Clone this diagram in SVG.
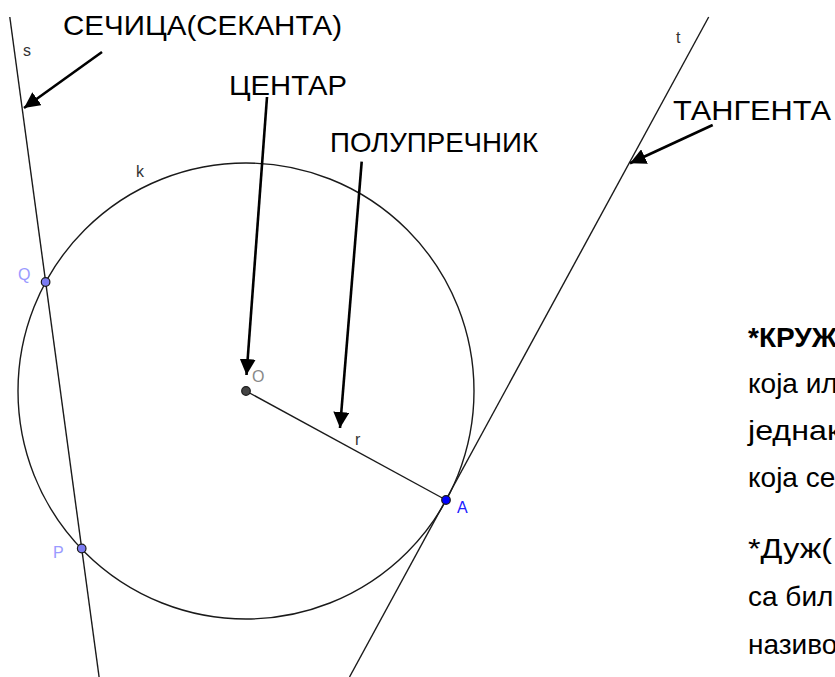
<svg xmlns="http://www.w3.org/2000/svg" width="835" height="677" viewBox="0 0 835 677">
<defs>
<style>
.geo{fill:none;stroke:#1a1a1a;stroke-width:1.4}
.lbl{font-family:"Liberation Sans",Arial,sans-serif;font-size:16px;fill:#333}
.big{font-family:"Comic Sans MS","Liberation Sans",sans-serif;font-size:28px;fill:#000}
.arr{fill:none;stroke:#000;stroke-width:2.6;marker-end:url(#ah)}
.pt{stroke:#1a1a1a;stroke-width:1.2}
</style>
<marker id="ah" markerUnits="userSpaceOnUse" markerWidth="18" markerHeight="16" refX="16" refY="8" orient="auto">
<path d="M0,0 L16,8 L0,16 z" fill="#000"/>
</marker>
</defs>
<rect width="835" height="677" fill="#fff"/>

<g id="circle-k">
<circle class="geo" cx="246" cy="391" r="228"/>
<text class="lbl" x="136" y="177">k</text>
</g>
<g id="line-s">
<line class="geo" x1="9.8" y1="17" x2="99.1" y2="677"/>
<text class="lbl" x="23" y="56">s</text>
</g>
<g id="line-t">
<line class="geo" x1="708.7" y1="17" x2="349.5" y2="677"/>
<text class="lbl" x="676" y="43">t</text>
</g>
<g id="segment-r">
<line class="geo" x1="246" y1="391" x2="446" y2="500"/>
<text class="lbl" x="355" y="445">r</text>
</g>
<g id="point-O">
<circle class="pt" cx="246" cy="391" r="4.3" fill="#444"/>
<text class="lbl" x="252" y="382" style="fill:#888">O</text>
</g>
<g id="point-A">
<circle class="pt" cx="446" cy="500" r="4.3" fill="#0000ff"/>
<text class="lbl" x="457" y="513" style="fill:#2020ff">A</text>
</g>
<g id="point-Q">
<circle class="pt" cx="45.6" cy="282" r="4.3" fill="#7b7bf2"/>
<text class="lbl" x="18" y="280" style="fill:#9a9aff">Q</text>
</g>
<g id="point-P">
<circle class="pt" cx="81.7" cy="548.5" r="4.3" fill="#7b7bf2"/>
<text class="lbl" x="53" y="558" style="fill:#9a9aff">P</text>
</g>

<g id="label-secant"><text class="big" x="63" y="35" textLength="279" lengthAdjust="spacingAndGlyphs">СЕЧИЦА(СЕКАНТА)</text></g>
<g id="label-center"><text class="big" x="229" y="95" textLength="118" lengthAdjust="spacingAndGlyphs">ЦЕНТАР</text></g>
<g id="label-radius"><text class="big" x="330" y="152" textLength="208" lengthAdjust="spacingAndGlyphs">ПОЛУПРЕЧНИК</text></g>
<g id="label-tangent"><text class="big" x="673" y="120" textLength="158" lengthAdjust="spacingAndGlyphs">ТАНГЕНТА</text></g>

<g id="definition-text" class="big">
<text x="748" y="347" font-weight="bold">*КРУЖ</text>
<text x="748" y="393">која ил</text>
<text x="748" y="440" textLength="93" lengthAdjust="spacingAndGlyphs">једнак</text>
<text x="748" y="487">која се</text>
<text x="748" y="558" textLength="84" lengthAdjust="spacingAndGlyphs">*Дуж(</text>
<text x="748" y="606">са бил</text>
<text x="748" y="654">називо</text>
</g>

<g id="connectors">
<line class="arr" x1="102" y1="52" x2="24" y2="108"/>
<line class="arr" x1="267" y1="97" x2="246.5" y2="375"/>
<line class="arr" x1="361.7" y1="161.7" x2="340" y2="428"/>
<line class="arr" x1="712.7" y1="125" x2="630" y2="163.3"/>
</g>
</svg>
